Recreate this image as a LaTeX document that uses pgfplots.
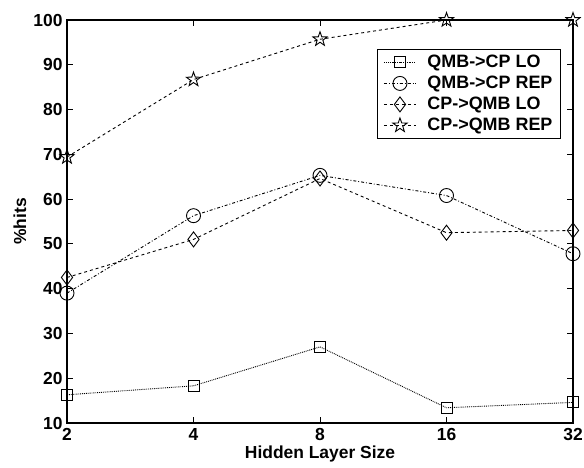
\documentclass[border=0pt]{standalone}
\usepackage{fontspec}
\setmainfont{Liberation Sans}
\usepackage{pgfplots}
\pgfplotsset{compat=1.18}
\pgfdeclareplotmark{pentagram}{%
  \pgfpathmoveto{\pgfpointpolar{90}{\pgfplotmarksize}}%
  \pgfpathlineto{\pgfpointpolar{126}{0.4\pgfplotmarksize}}%
  \pgfpathlineto{\pgfpointpolar{162}{\pgfplotmarksize}}%
  \pgfpathlineto{\pgfpointpolar{198}{0.4\pgfplotmarksize}}%
  \pgfpathlineto{\pgfpointpolar{234}{\pgfplotmarksize}}%
  \pgfpathlineto{\pgfpointpolar{270}{0.4\pgfplotmarksize}}%
  \pgfpathlineto{\pgfpointpolar{306}{\pgfplotmarksize}}%
  \pgfpathlineto{\pgfpointpolar{342}{0.4\pgfplotmarksize}}%
  \pgfpathlineto{\pgfpointpolar{18}{\pgfplotmarksize}}%
  \pgfpathlineto{\pgfpointpolar{54}{0.4\pgfplotmarksize}}%
  \pgfpathclose
  \pgfusepathqstroke}
\begin{document}
\begin{tikzpicture}
\useasboundingbox (-67bp,-45bp) rectangle (517bp,423bp);
\begin{axis}[
  scale only axis,
  width=506bp, height=403bp,
  xmode=log, log basis x=2,
  xmin=2, xmax=32, ymin=10, ymax=100,
  xtick={2,4,8,16,32}, xticklabels={2,4,8,16,32},
  ytick={10,20,...,100},
  tick align=inside, major tick length=6bp,
  xtick pos=both, ytick pos=both,
  axis line style={line width=1.1pt},
  every tick/.style={black, line width=1pt},
  tick label style={font=\fontsize{17.5}{20}\selectfont\bfseries},
  /pgf/number format/assume math mode=true,
  xlabel={Hidden Layer Size}, ylabel={\%hits},
  label style={font=\fontsize{17.5}{20}\selectfont\bfseries},
  xlabel style={at={(axis description cs:0.5,-0.077)}, anchor=center},
  ylabel style={at={(axis description cs:-0.093,0.5)}, anchor=center},
  yticklabel style={xshift=-1bp},
  xticklabel style={yshift=-2bp},
  legend style={at={(rel axis cs:0.976,0.928)}, anchor=north east,
    font=\fontsize{18}{21}\selectfont\bfseries, draw=black, line width=0.8pt,
    inner xsep=6bp, inner ysep=4bp, row sep=3bp,
    /tikz/every odd column/.append style={column sep=9bp}},
  legend cell align=left,
  legend image code/.code={%
    \draw[mark repeat=2, mark phase=2, #1] plot coordinates {(0bp,0bp) (16bp,0bp) (32bp,0bp)};},
  every axis plot/.append style={line width=0.9pt, black},
  clip=false,
]
\addplot[densely dotted, mark=square, mark size=5.5bp, mark options={solid}]
  coordinates {(2,16.3) (4,18.3) (8,27.0) (16,13.4) (32,14.6)};
\addlegendentry{QMB->CP LO}
\addplot[dash dot, mark=o, mark size=7bp, mark options={solid}]
  coordinates {(2,39.0) (4,56.3) (8,65.3) (16,60.8) (32,47.8)};
\addlegendentry{QMB->CP REP\hspace{15bp}}
\addplot[dashed, mark=diamond, mark size=7.5bp, mark options={solid}]
  coordinates {(2,42.5) (4,51.0) (8,64.6) (16,52.5) (32,53.0)};
\addlegendentry{CP->QMB LO}
\addplot[dashed, mark=pentagram, mark size=7.5bp, mark options={solid}]
  coordinates {(2,69.4) (4,86.7) (8,95.7) (16,100) (32,100)};
\addlegendentry{CP->QMB REP}
\end{axis}
\end{tikzpicture}
\end{document}
